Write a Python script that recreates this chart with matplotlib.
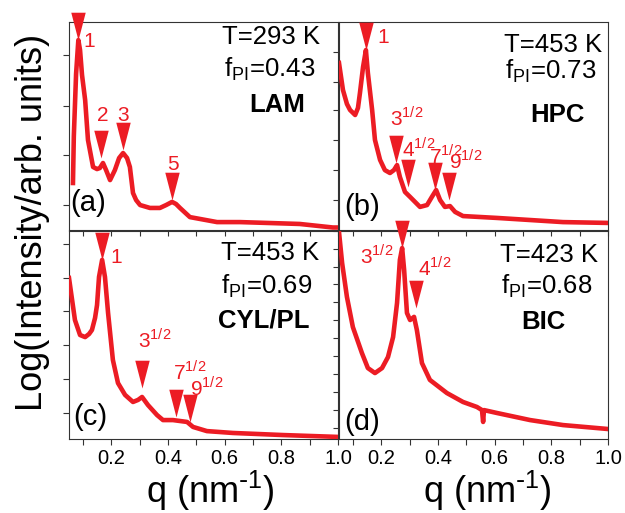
import matplotlib
matplotlib.use('Agg')
import matplotlib.pyplot as plt
from matplotlib.path import Path
from matplotlib.ticker import MultipleLocator, FixedLocator

plt.rcParams['font.family'] = ['Liberation Sans', 'DejaVu Sans']

RED = '#ec1c24'

# ---- (a) LAM, T=293 K ----
q_a = [0.064, 0.067, 0.075, 0.083, 0.089, 0.096, 0.107, 0.117, 0.135, 0.149, 0.159,
       0.170, 0.181, 0.195, 0.212, 0.227, 0.241, 0.255, 0.265, 0.276, 0.287, 0.301,
       0.336, 0.371, 0.393, 0.414, 0.428, 0.442, 0.477, 0.513, 0.573, 0.654, 0.749,
       0.865, 0.982, 1.0]
i_a = [0.226, 0.45, 0.75, 0.913, 0.865, 0.745, 0.625, 0.433, 0.303, 0.293, 0.298,
       0.322, 0.288, 0.240, 0.288, 0.346, 0.370, 0.346, 0.303, 0.178, 0.144, 0.120,
       0.106, 0.106, 0.120, 0.135, 0.125, 0.106, 0.062, 0.053, 0.038, 0.038, 0.034,
       0.029, 0.012, 0.012]
pk_q_a = [0.083, 0.163, 0.241, 0.414]
pk_i_a = [0.913, 0.346, 0.385, 0.144]
lab_a = ['1', '2', '3', '5']
lab_q_a = [0.101, 0.149, 0.220, 0.396]
lab_i_a = [0.880, 0.524, 0.524, 0.288]

# ---- (b) HPC, T=453 K ----
q_b = [0.050, 0.064, 0.078, 0.089, 0.107, 0.117, 0.124, 0.135, 0.145, 0.152, 0.167,
       0.177, 0.195, 0.212, 0.230, 0.244, 0.255, 0.265, 0.283, 0.301, 0.336, 0.361,
       0.378, 0.393, 0.407, 0.424, 0.442, 0.460, 0.488, 0.608, 0.725, 0.841, 1.0]
i_b = [0.803, 0.673, 0.606, 0.577, 0.553, 0.587, 0.659, 0.784, 0.865, 0.755, 0.577,
       0.433, 0.337, 0.288, 0.274, 0.288, 0.312, 0.255, 0.183, 0.159, 0.111, 0.120,
       0.159, 0.192, 0.144, 0.111, 0.115, 0.087, 0.067, 0.058, 0.048, 0.038, 0.034]
pk_q_b = [0.145, 0.251, 0.294, 0.389, 0.439]
pk_i_b = [0.865, 0.322, 0.207, 0.192, 0.144]
lab_b = ['1', '3', '4', '7', '9']
lab_q_b = [0.184, 0.230, 0.272, 0.368, 0.439]
lab_i_b = [0.899, 0.500, 0.351, 0.322, 0.298]

# ---- (c) CYL/PL, T=453 K ----
q_c = [0.050, 0.061, 0.071, 0.089, 0.107, 0.121, 0.131, 0.142, 0.149, 0.156, 0.167,
       0.177, 0.188, 0.205, 0.223, 0.248, 0.276, 0.294, 0.308, 0.329, 0.361, 0.382,
       0.417, 0.467, 0.488, 0.537, 0.629, 0.806, 1.0]
i_c = [0.774, 0.668, 0.572, 0.500, 0.490, 0.505, 0.524, 0.582, 0.644, 0.779, 0.861,
       0.779, 0.606, 0.380, 0.269, 0.212, 0.178, 0.188, 0.202, 0.163, 0.115, 0.091,
       0.091, 0.082, 0.058, 0.038, 0.029, 0.019, 0.010]
pk_q_c = [0.167, 0.308, 0.428, 0.477]
pk_i_c = [0.861, 0.245, 0.106, 0.082]
lab_c = ['1', '3', '7', '9']
lab_q_c = [0.195, 0.294, 0.417, 0.477]
lab_i_c = [0.846, 0.4375, 0.284, 0.2115]

# ---- (d) BIC, T=423 K ----
q_d = [0.050, 0.061, 0.078, 0.099, 0.131, 0.152, 0.177, 0.202, 0.223, 0.241, 0.255,
       0.265, 0.273, 0.280, 0.290, 0.301, 0.315, 0.325, 0.343, 0.371, 0.431, 0.488,
       0.537, 0.555, 0.559, 0.562, 0.608, 0.725, 0.841, 1.0]
i_d = [0.995, 0.846, 0.683, 0.538, 0.413, 0.341, 0.317, 0.341, 0.394, 0.490, 0.654,
       0.861, 0.918, 0.813, 0.606, 0.572, 0.587, 0.524, 0.365, 0.284, 0.221, 0.178,
       0.154, 0.139, 0.082, 0.139, 0.125, 0.091, 0.067, 0.048]
pk_q_d = [0.273, 0.322]
pk_i_d = [0.918, 0.630]
lab_d = ['3', '4']
lab_q_d = [0.124, 0.329]
lab_i_d = [0.846, 0.788]

info_a = ['T=293 K', 'f$_{\\mathregular{PI}}$=0.43', 'LAM']
info_b = ['T=453 K', 'f$_{\\mathregular{PI}}$=0.73', 'HPC']
info_c = ['T=453 K', 'f$_{\\mathregular{PI}}$=0.69', 'CYL/PL']
info_d = ['T=423 K', 'f$_{\\mathregular{PI}}$=0.68', 'BIC']

# triangle marker with the tip at the data point
tri = Path([(-0.26, 1), (0.26, 1), (0, 0), (-0.26, 1)],
           [Path.MOVETO, Path.LINETO, Path.LINETO, Path.CLOSEPOLY])

W, H = 625, 513
fig = plt.figure(figsize=(W / 100, H / 100), dpi=100)


def draw_panel(x0, y0, q, inten, pk_q, pk_i, labs, lq, li, sqrt_labels, info, info_pos,
               tag, tag_pos, yticks, yminor, bottom):
    ax = fig.add_axes([x0 / W, 1 - (y0 + 208) / H, 269 / W, 208 / H])
    ax.patch.set_visible(False)
    ax.plot(q, inten, color=RED, lw=3.3, solid_joinstyle='round', zorder=3)
    ax.plot(pk_q, pk_i, linestyle='none', marker=tri, ms=40, mew=0, color=RED,
            clip_on=False, zorder=4)
    for lab, x, y in zip(labs, lq, li):
        s = lab
        if sqrt_labels and lab != '1':
            s = lab + '$^{\\mathregular{1/2}}$'
        ax.text(x, y, s, color=RED, fontsize=15, ha='left', va='baseline')
    for k, (s, (tx, ty)) in enumerate(zip(info, info_pos)):
        ax.text(tx, ty, s, transform=ax.transAxes, fontsize=18.5, ha='center', va='center',
                fontweight='bold' if k == 2 else 'normal')
    ax.text(tag_pos[0], tag_pos[1], tag, transform=ax.transAxes, fontsize=21,
            ha='center', va='center')
    ax.set_xlim(0.05, 1.0)
    ax.set_ylim(0, 1)
    ax.xaxis.set_major_locator(MultipleLocator(0.2))
    ax.xaxis.set_minor_locator(MultipleLocator(0.1))
    ax.yaxis.set_major_locator(FixedLocator(yticks))
    ax.yaxis.set_minor_locator(FixedLocator(yminor))
    ax.tick_params(which='both', direction='out', length=4, width=0.8, color='#333333',
                   top=False, right=False, labelleft=False, labelbottom=bottom,
                   labelsize=14.5, pad=3)
    for sp in ax.spines.values():
        sp.set_linewidth(0.8)
        sp.set_color('#333333')
    return ax


draw_panel(69, 22, q_a, i_a, pk_q_a, pk_i_a, lab_a, lab_q_a, lab_i_a, False, info_a,
           [(0.751, 0.928), (0.747, 0.775), (0.773, 0.601)], '(a)', (0.071, 0.130),
           [0.841, 0.596, 0.361, 0.120], [], False)
draw_panel(339, 22, q_b, i_b, pk_q_b, pk_i_b, lab_b, lab_q_b, lab_i_b, True, info_b,
           [(0.794, 0.889), (0.788, 0.765), (0.812, 0.553)], '(b)', (0.087, 0.111),
           [0.856, 0.712, 0.577, 0.433, 0.288, 0.144], [], False)
draw_panel(69, 231, q_c, i_c, pk_q_c, pk_i_c, lab_c, lab_q_c, lab_i_c, True, info_c,
           [(0.747, 0.894), (0.736, 0.736), (0.725, 0.572)], '(c)', (0.078, 0.106),
           [0.9375, 0.774, 0.615, 0.452, 0.288, 0.125], [], True)
draw_panel(339, 231, q_d, i_d, pk_q_d, pk_i_d, lab_d, lab_q_d, lab_i_d, True, info_d,
           [(0.779, 0.885), (0.773, 0.736), (0.758, 0.5625)], '(d)', (0.087, 0.082),
           [1.0, 0.827, 0.659, 0.486, 0.3125, 0.139],
           [0.913, 0.743, 0.572, 0.399, 0.226, 0.052], True)

fig.text(33 / W, 1 - 222 / H, 'Log(Intensity/arb. units)', rotation=90, fontsize=26,
         ha='center', va='center')
for xc in (210, 487):
    fig.text(xc / W, 1 - 503 / H, 'q (nm$^{\\mathregular{\\text{-}1}}$)', fontsize=26,
             ha='center', va='baseline')

fig.savefig('out.png', dpi=100)
